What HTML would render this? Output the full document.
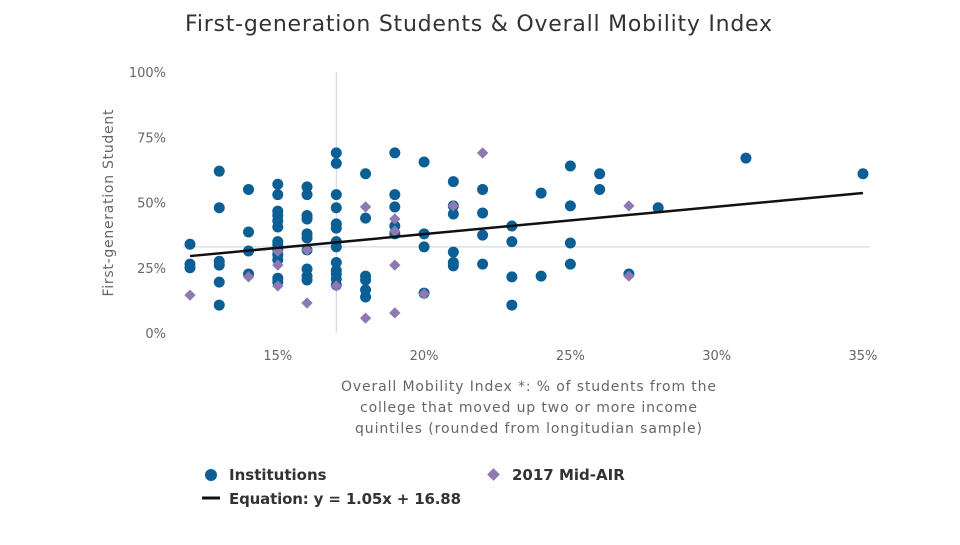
<!DOCTYPE html>
<html><head><meta charset="utf-8"><style>
body{margin:0;background:#fff;font-family:"Liberation Sans",sans-serif}
svg text{font-family:"DejaVu Sans","Liberation Sans",sans-serif}
</style></head><body>
<svg id="chart" width="960" height="540" viewBox="0 0 960 540">
<text x="185" y="31" font-size="22" fill="#333" textLength="587" lengthAdjust="spacing">First-generation Students &amp; Overall Mobility Index</text>
<g id="grid"></g><g id="axes"></g><g id="marks"></g>
<text transform="translate(113,203) rotate(-90)" text-anchor="middle" font-size="14" fill="#666" textLength="187" lengthAdjust="spacing">First-generation Student</text>
<g font-size="14" fill="#666">
<text x="341" y="391" textLength="375" lengthAdjust="spacing">Overall Mobility Index *: % of students from the</text>
<text x="360" y="412" textLength="337" lengthAdjust="spacing">college that moved up two or more income</text>
<text x="355" y="433" textLength="347" lengthAdjust="spacing">quintiles (rounded from longitudian sample)</text>
</g>
<g font-size="15" font-weight="bold" fill="#333">
<g><circle cx="211" cy="475" r="6" fill="#0b5f95"/><text x="229" y="480">Institutions</text></g>
<g><rect x="489" y="470" width="9" height="9" fill="#8e79b0" transform="rotate(45 493.5 474.5)"/><text x="512" y="480">2017 Mid-AIR</text></g>
<g><line x1="202" y1="498" x2="220" y2="498" stroke="#111" stroke-width="3"/><text x="229" y="504" textLength="232" lengthAdjust="spacing">Equation: y = 1.05x + 16.88</text></g>
</g>
</svg>
<script>
const instX=[12,12,12,13,13,13,13,13,13,14,14,14,14,15,15,15,15,15,15,15,15,15,15,15,15,15,16,16,16,16,16,16,16,16,16,16,17,17,17,17,17,17,17,17,17,17,17,17,17,18,18,18,18,18,18,19,19,19,19,19,20,20,20,20,21,21,21,21,21,21,22,22,22,22,23,23,23,23,24,24,25,25,25,25,26,26,27,28,31,35];
const instY=[34,26.4,25,62,48,27.5,26,19.5,10.7,55,38.7,31.4,22.6,57,53,46.7,45,43,40.6,35,33.7,31.8,30,28,21,19.5,56,53,45,43.7,38,36.4,31.8,24.5,21.8,20.3,69,65,53,48,41.8,40.2,35,33,27,24,22.6,20.7,18.4,61,44,21.8,20.3,16.5,13.8,69,53,48.3,41,38,65.5,38,33,15.3,58,48.7,45.6,31,27,25.7,55,46,37.5,26.4,41,35,21.5,10.7,53.6,21.8,64,48.7,34.5,26.4,61,55,22.6,48,67,61];
const airX=[12,14,15,15,15,16,16,17,18,18,19,19,19,19,20,21,22,27,27];
const airY=[14.5,21.5,31.4,26,18,11.5,31.8,18,48.3,5.7,43.7,39,26,7.7,15,48.7,69,48.7,21.8];
const xTicks=[15,20,25,30,35];
const yTicks=[0,25,50,75,100];
const slope=1.05, intercept=16.88, lineX=[12,35];
const crossX=17, crossY=33;
const NS="http://www.w3.org/2000/svg";
const xs=v=>190+(v-12)*29.26;
const ys=v=>333-v*2.61;
function mk(tag,attrs,parent){const e=document.createElementNS(NS,tag);for(const k in attrs)e.setAttribute(k,attrs[k]);document.getElementById(parent).appendChild(e);return e;}
let c=mk('line',{x1:xs(crossX),x2:xs(crossX),y1:72,y2:333,stroke:'#c8d2dc','stroke-width':1},'grid');


c=mk('line',{x1:183,x2:870,y1:ys(crossY),y2:ys(crossY),stroke:'#c8d2dc','stroke-width':1},'grid');


yTicks.forEach(t=>{const e=mk('text',{x:166,y:ys(t)+5,'text-anchor':'end','font-size':13,fill:'#666'},'axes');e.textContent=t+'%';

});
xTicks.forEach(t=>{const e=mk('text',{x:xs(t),y:360,'text-anchor':'middle','font-size':13,fill:'#666'},'axes');e.textContent=t+'%';

});
instX.forEach((x,i)=>{const e=mk('circle',{cx:xs(x),cy:ys(instY[i]),r:5.5,fill:'#0b5f95'},'marks');

});
airX.forEach((x,i)=>{const cx=xs(x),cy=ys(airY[i]);const e=mk('rect',{x:cx-4,y:cy-4,width:8,height:8,fill:'#8e79b0',transform:`rotate(45 ${cx} ${cy})`},'marks');

});
const l=mk('line',{x1:xs(lineX[0]),y1:ys(slope*lineX[0]+intercept),x2:xs(lineX[1]),y2:ys(slope*lineX[1]+intercept),stroke:'#111','stroke-width':2.5},'marks');


</script>
</body></html>
